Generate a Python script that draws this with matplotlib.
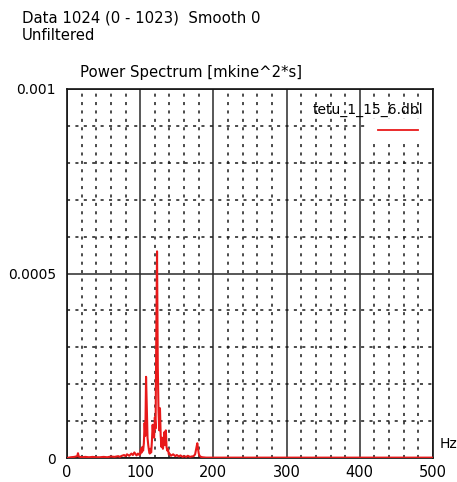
import matplotlib
matplotlib.use("Agg")
import matplotlib.pyplot as plt
from matplotlib.lines import Line2D
import numpy as np

# Spectrum (Hz, power in 1e-4 mkine^2*s)
freq_hz = [
    0, 5, 10, 14, 15, 16, 20, 25, 30, 35, 40, 45, 50, 55, 60, 65, 70, 72,
    75, 78, 80, 82, 85, 88, 90, 92, 95, 97, 99,
    100, 101, 102, 103, 104, 105, 106, 107, 108, 109, 110, 111, 112, 113,
    114, 115, 116, 117, 118, 119, 120, 121, 122, 123, 124, 125, 126, 127,
    128, 129, 130, 131, 132, 133, 134, 135, 136, 137, 138, 139, 140, 142,
    145, 148, 150, 153, 155, 158, 160, 163, 165, 168, 170, 173, 175, 176,
    177, 178, 179, 180, 181, 183, 185, 190, 200, 220, 250, 300, 350, 400,
    450, 500,
]
power_e4 = [
    0.0, 0.02, 0.03, 0.05, 0.13, 0.04, 0.02, 0.03, 0.02, 0.03, 0.02, 0.02,
    0.03, 0.02, 0.04, 0.03, 0.05, 0.03, 0.06, 0.08, 0.05, 0.10, 0.06, 0.12,
    0.08, 0.15, 0.07, 0.12, 0.08,
    0.10, 0.25, 0.15, 0.30, 0.20, 0.40, 0.95, 0.60, 2.20, 1.40, 0.55, 0.35,
    0.20, 0.12, 0.25, 0.15, 0.45, 0.90, 0.60, 0.55, 1.10, 0.80, 3.40, 5.60,
    2.50, 1.30, 0.75, 1.35, 0.60, 0.30, 0.55, 0.25, 0.40, 0.70, 0.35, 0.75,
    0.30, 0.20, 0.25, 0.10, 0.12, 0.06, 0.10, 0.05, 0.08, 0.04, 0.07, 0.03,
    0.05, 0.03, 0.06, 0.03, 0.04, 0.05, 0.10, 0.20, 0.30, 0.40, 0.25, 0.12,
    0.06, 0.03, 0.02, 0.01, 0.01, 0.01, 0.01, 0.01, 0.01, 0.01, 0.01, 0.01,
]
power = np.array(power_e4) * 1e-4

x_ticks = [0, 100, 200, 300, 400, 500]
y_ticks = [0, 0.0005, 0.001]
y_tick_labels = ["0", "0.0005", "0.001"]

plt.rcParams["font.family"] = ["DejaVu Sans"]
FS = 10
FS_TITLE = 10.7

fig = plt.figure(figsize=(4.57, 4.82), dpi=100)
ax = fig.add_axes([67 / 457, 24 / 482, 366 / 457, 369 / 482])

ax.plot(freq_hz, power, color="#e8191a", lw=1.5, zorder=3)

ax.set_xlim(0, 500)
ax.set_ylim(0, 0.001)
ax.set_xticks(x_ticks)
ax.set_xticklabels([str(t) for t in x_ticks], fontsize=10.5)
ax.set_yticks(y_ticks)
ax.set_yticklabels(y_tick_labels, fontsize=FS)
ax.set_xticks(np.arange(20, 500, 20), minor=True)
ax.set_yticks(np.arange(0.0001, 0.001, 0.0001), minor=True)
ax.tick_params(which="both", length=0)
ax.tick_params(axis="x", pad=5)
ax.tick_params(axis="y", pad=8)

ax.grid(which="major", color="#2a2a2a", lw=1.1, ls="-", zorder=1)
ax.grid(which="minor", color="#1a1a1a", lw=1.1, ls=(0, (2, 3.5)), zorder=1)
ax.set_axisbelow(True)
for s in ax.spines.values():
    s.set_color("#111111")
    s.set_linewidth(1.2)

# legend: name above, red line below right on a blank patch
ax.add_patch(plt.Rectangle((0.82, 0.856), 0.178, 0.062, transform=ax.transAxes,
                           facecolor="white", edgecolor="none", zorder=2))
ax.text(0.973, 0.943, "tetu_1_15_6.dbl", transform=ax.transAxes, fontsize=FS,
        ha="right", va="center", zorder=4)
ax.add_line(Line2D([0.85, 0.959], [0.889, 0.889], transform=ax.transAxes,
                   color="#e8191a", lw=1.3, zorder=4))

fig.text(22 / 457, 1 - 18 / 482, "Data 1024 (0 - 1023)  Smooth 0",
         fontsize=FS_TITLE, va="center")
fig.text(22 / 457, 1 - 35 / 482, "Unfiltered", fontsize=FS_TITLE, va="center")
fig.text(80 / 457, 1 - 72 / 482, "Power Spectrum [mkine^2*s]",
         fontsize=FS_TITLE, va="center")
fig.text(440 / 457, 1 - 444 / 482, "Hz", fontsize=FS, va="center")

fig.savefig("out.png", dpi=100)
